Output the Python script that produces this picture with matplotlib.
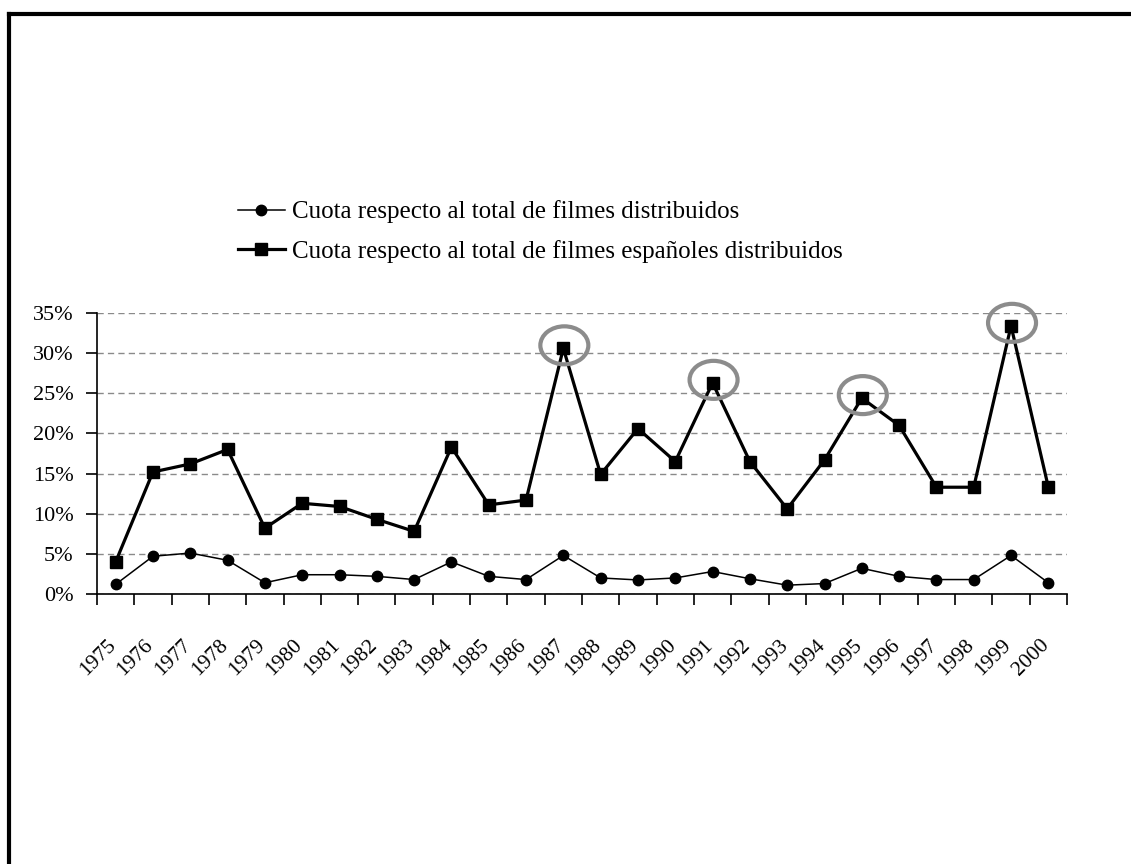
import matplotlib
matplotlib.use("Agg")
import matplotlib.pyplot as plt
from matplotlib.patches import Ellipse
from matplotlib.lines import Line2D
from matplotlib.transforms import ScaledTranslation
from matplotlib.ticker import PercentFormatter, FixedLocator

plt.rcParams['font.family'] = ['Liberation Serif', 'DejaVu Serif']

years = [str(y) for y in range(1975, 2001)]

# Cuota respecto al total de filmes distribuidos (%)
share_all = [1.2, 4.7, 5.1, 4.2, 1.4, 2.4, 2.4, 2.2, 1.8, 4.0, 2.2, 1.8, 4.8,
             2.0, 1.75, 2.0, 2.8, 1.9, 1.1, 1.3, 3.2, 2.2, 1.8, 1.8, 4.8, 1.4]

# Cuota respecto al total de filmes españoles distribuidos (%)
share_spanish = [4.0, 15.2, 16.2, 18.0, 8.2, 11.3, 10.9, 9.3, 7.8, 18.3, 11.1, 11.7, 30.6,
                 14.9, 20.6, 16.5, 26.3, 16.5, 10.6, 16.7, 24.4, 21.0, 13.3, 13.3, 33.4, 13.3]

highlight_years = ['1987', '1991', '1995', '1999']

label_all = 'Cuota respecto al total de filmes distribuidos'
label_spanish = 'Cuota respecto al total de filmes españoles distribuidos'

W, H = 1131, 864
fig = plt.figure(figsize=(W / 100, H / 100), dpi=100)
fig.patch.set_facecolor('white')

ax = fig.add_axes([97 / W, 1 - 594 / H, 970 / W, 281 / H])
x = list(range(len(years)))

ax.plot(x, share_all, color='black', lw=1.1, marker='o', ms=7.5,
        markerfacecolor='black', markeredgecolor='black', label=label_all, zorder=3)
ax.plot(x, share_spanish, color='black', lw=2.3, marker='s', ms=8.5,
        markerfacecolor='black', markeredgecolor='black', label=label_spanish, zorder=3)

# Grey rings around the highlighted peaks
for yr in highlight_years:
    i = years.index(yr)
    tr = fig.dpi_scale_trans + ScaledTranslation(i, share_spanish[i], ax.transData)
    ell = Ellipse((0.01, 0.03), 0.48, 0.38, transform=tr, fill=False,
                  edgecolor='#8c8c8c', lw=3.0, zorder=4, clip_on=False)
    ax.add_artist(ell)

ax.set_xlim(-0.5, len(years) - 0.5)
ax.set_ylim(0, 35)
ax.set_yticks(range(0, 36, 5))
ax.yaxis.set_major_formatter(PercentFormatter(xmax=100, decimals=0))
ax.yaxis.grid(True, linestyle=(0, (4.5, 3)), color='#8a8a8a', lw=1.0)
ax.set_axisbelow(True)

ax.xaxis.set_major_locator(FixedLocator([i - 0.5 for i in range(len(years) + 1)]))
ax.xaxis.set_minor_locator(FixedLocator(x))
ax.set_xticklabels([])
ax.set_xticklabels(years, minor=True, rotation=45, ha='right', va='top',
                   rotation_mode='anchor')
ax.tick_params(axis='x', which='major', direction='out', length=8, width=1.2, color='black')
ax.tick_params(axis='x', which='minor', length=0, pad=30, labelsize=15.5)
ax.tick_params(axis='y', direction='out', length=8, width=1.2, pad=9, labelsize=16)

# nudge the slanted year labels so they end at their category centre
shift = ScaledTranslation(-0.09, 0, fig.dpi_scale_trans)
for lbl in ax.get_xticklabels(minor=True):
    lbl.set_transform(lbl.get_transform() + shift)

for s in ['top', 'right']:
    ax.spines[s].set_visible(False)
for s in ['left', 'bottom']:
    ax.spines[s].set_linewidth(1.2)
    ax.spines[s].set_color('black')

handles = [
    Line2D([], [], color='black', lw=1.1, marker='o', ms=7.5),
    Line2D([], [], color='black', lw=2.3, marker='s', ms=8.5),
]
fig.legend(handles, [label_all, label_spanish], loc='upper left',
           bbox_to_anchor=(215 / W, 1 - 178 / H), frameon=False,
           fontsize=18, handlelength=1.9, handletextpad=0.3, labelspacing=0.65)

# Page frame on the left and top edges
fig.add_artist(Line2D([9 / W, 9 / W], [0, 1 - 14 / H], color='black', lw=3,
                      transform=fig.transFigure, solid_capstyle='projecting'))
fig.add_artist(Line2D([9 / W, 1], [1 - 14 / H, 1 - 14 / H], color='black', lw=3,
                      transform=fig.transFigure, solid_capstyle='projecting'))

fig.savefig('out.png', dpi=100, facecolor='white')
